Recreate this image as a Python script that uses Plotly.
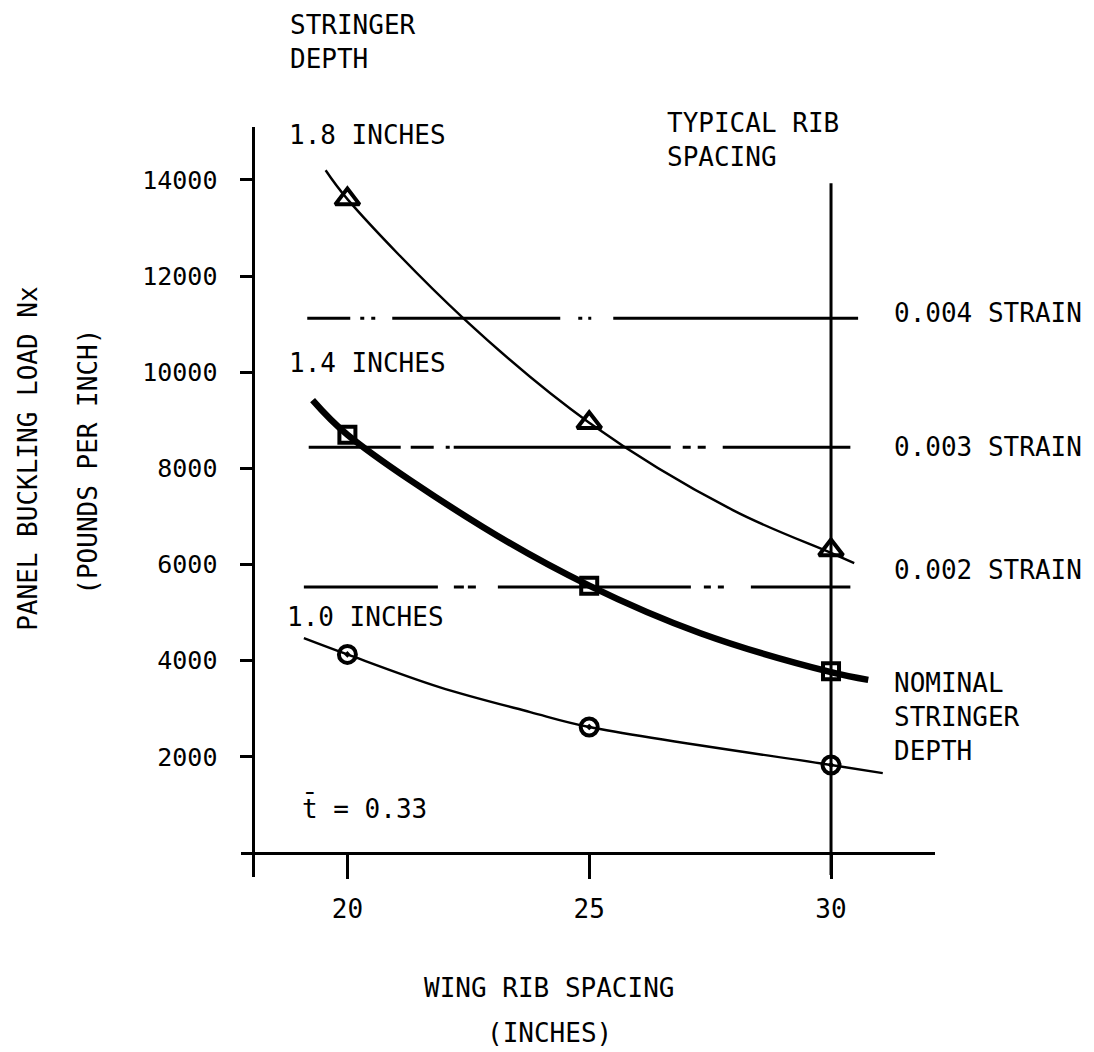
import plotly.graph_objects as go

# ---------------- data ----------------
rib_spacing = [20, 25, 30]

# test points (markers)
load_18 = [13600, 8950, 6300]   # 1.8 in stringer depth (triangles)
load_14 = [8700, 5560, 3780]    # 1.4 in (squares, nominal)
load_10 = [4130, 2620, 1830]    # 1.0 in (circles)

# faired curves
curve18_x = [19.55, 20.0, 22.4, 25.0, 27.97, 30.0, 30.48]
curve18_y = [14200, 13600, 11120, 8950, 7130, 6240, 6030]
curve14_x = [19.28, 20.0, 22.8, 25.0, 27.3, 30.0, 30.77]
curve14_y = [9420, 8700, 6780, 5560, 4570, 3760, 3600]
curve10_x = [19.1, 20.0, 21.9, 23.78, 25.0, 30.0, 31.07]
curve10_y = [4470, 4130, 3450, 2930, 2620, 1830, 1660]

# strain reference lines
strain_labels = ["0.004 STRAIN", "0.003 STRAIN", "0.002 STRAIN"]
strain_loads = [11120, 8440, 5530]
strain_x_start = [19.17, 19.2, 19.1]
strain_x_end = [30.56, 30.4, 30.4]
strain_dash = [
    "43px,10px,4px,7px,4px,17px,168px,18px,4px,6px,3px,22px,260px",
    "92px,10px,23px,12px,4px,4px,217px,12px,8px,7px,8px,17px,140px",
    "134px,16px,10px,4px,8px,22px,193px,13px,7px,7px,6px,27px,110px",
]

# typical rib spacing line
typical_rib = 30
typical_rib_y = [-460, 13930]

y_ticks = [2000, 4000, 6000, 8000, 10000, 12000, 14000]
x_ticks = [20, 25, 30]

FONT = "DejaVu Sans Mono"
INK = "black"

fig = go.Figure()

# strain lines
for lab, yv, x0, x1, d in zip(strain_labels, strain_loads, strain_x_start, strain_x_end, strain_dash):
    fig.add_trace(go.Scatter(x=[x0, x1], y=[yv, yv], mode="lines",
                             line=dict(color=INK, width=3, dash=d),
                             showlegend=False, hoverinfo="skip", cliponaxis=False))

# typical rib spacing vertical line
fig.add_trace(go.Scatter(x=[typical_rib, typical_rib], y=typical_rib_y, mode="lines",
                         line=dict(color=INK, width=3), showlegend=False,
                         hoverinfo="skip", cliponaxis=False))

# curves
fig.add_trace(go.Scatter(x=curve18_x, y=curve18_y, mode="lines",
                         line=dict(color=INK, width=2.4, shape="spline", smoothing=1.0),
                         showlegend=False, cliponaxis=False))
fig.add_trace(go.Scatter(x=curve14_x, y=curve14_y, mode="lines",
                         line=dict(color=INK, width=6.5, shape="spline", smoothing=1.0),
                         showlegend=False, cliponaxis=False))
fig.add_trace(go.Scatter(x=curve10_x, y=curve10_y, mode="lines",
                         line=dict(color=INK, width=2.4, shape="spline", smoothing=1.0),
                         showlegend=False, cliponaxis=False))

# markers
fig.add_trace(go.Scatter(x=rib_spacing, y=load_18, mode="markers",
                         marker=dict(symbol="triangle-up-open", size=21, color=INK,
                                     line=dict(color=INK, width=4)),
                         showlegend=False, cliponaxis=False))
fig.add_trace(go.Scatter(x=rib_spacing, y=load_14, mode="markers",
                         marker=dict(symbol="square-open", size=16, color=INK,
                                     line=dict(color=INK, width=4)),
                         showlegend=False, cliponaxis=False))
fig.add_trace(go.Scatter(x=rib_spacing, y=load_10, mode="markers",
                         marker=dict(symbol="circle-open-dot", size=17, color=INK,
                                     line=dict(color=INK, width=4)),
                         showlegend=False, cliponaxis=False))

# ---------------- text ----------------
def note(text, x, y, size=26, xanchor="left", yanchor="middle", align="left", angle=0,
         xref="x", yref="y"):
    fig.add_annotation(text=text, x=x, y=y, xref=xref, yref=yref, showarrow=False,
                       xanchor=xanchor, yanchor=yanchor, align=align, textangle=angle,
                       font=dict(family=FONT, size=size, color=INK))

note("STRINGER<br>DEPTH", 18.78, 1.1127, yref="paper")
note("1.8 INCHES", 18.76, 14930)
note("1.4 INCHES", 18.76, 10190)
note("1.0 INCHES", 18.72, 4906)
note("t\u0304 = 0.33", 19.03, 936)
note("TYPICAL RIB<br>SPACING", 26.57, 14820)
for lab, yl in zip(strain_labels, [11227, 8441, 5884]):
    note(lab, 31.27, yl)
note("NOMINAL<br>STRINGER<br>DEPTH", 31.26, 2827)
note("PANEL BUCKLING LOAD Nx", -0.3074, 8191, xanchor="center", angle=-90, xref="paper")
note("(POUNDS PER INCH)", -0.2196, 8129, xanchor="center", angle=-90, xref="paper")
note("WING RIB SPACING", 24.17, -0.148, xanchor="center", yref="paper")
note("(INCHES)", 24.17, -0.208, xanchor="center", yref="paper")

# page body has an 8px margin: figure is sized/offset so the plot lands where the reference has it
fig.update_layout(
    width=1086, height=1044,
    margin=dict(l=232.5, r=159, t=119, b=175, autoexpand=False),
    paper_bgcolor="white", plot_bgcolor="white",
    showlegend=False,
    xaxis=dict(range=[17.8, 32.15], tickvals=x_ticks, ticktext=[str(v) for v in x_ticks],
               showgrid=False, zeroline=False, showline=True, linecolor=INK, linewidth=3,
               ticks="outside", ticklen=24, tickwidth=3, tickcolor=INK,
               anchor="free", position=0.03205, ticklabelstandoff=8,
               tickfont=dict(family=FONT, size=26, color=INK)),
    yaxis=dict(range=[-500, 15100], tickvals=y_ticks, ticktext=[str(v) for v in y_ticks],
               showgrid=False, zeroline=False, showline=True, linecolor=INK, linewidth=3,
               ticks="outside", ticklen=12, tickwidth=3, tickcolor=INK,
               anchor="free", position=0.018, ticklabelstandoff=18,
               tickfont=dict(family=FONT, size=25, color=INK)),
)

fig.write_html("out.html")
